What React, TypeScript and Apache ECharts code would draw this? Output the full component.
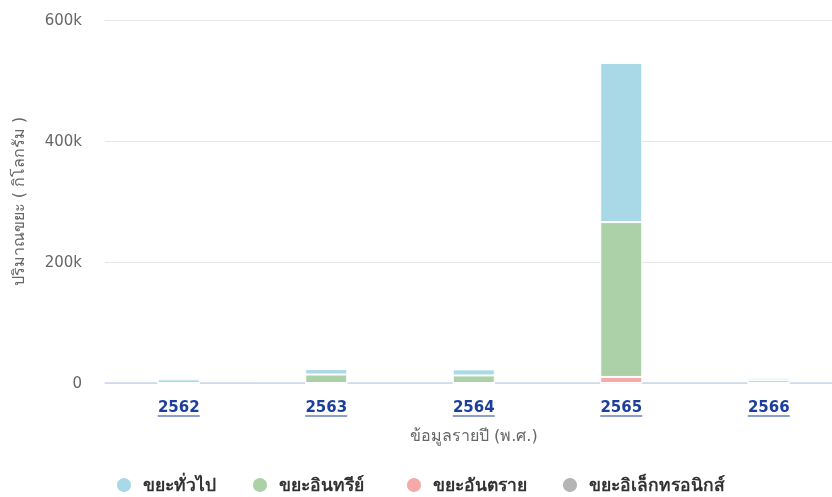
import React, { useEffect, useRef } from "react";
import * as echarts from "echarts";

const categories = ["2562", "2563", "2564", "2565", "2566"];
const generalWaste = [6000, 9000, 10000, 263000, 4000];
const organicWaste = [0, 14000, 12500, 256000, 4500];
const hazardousWaste = [0, 0, 0, 10000, 0];
const electronicWaste = [0, 0, 0, 0, 0];
const seriesNames = ["ขยะทั่วไป", "ขยะอินทรีย์", "ขยะอันตราย", "ขยะอิเล็กทรอนิกส์"];
const seriesColors = ["#a9d8e7", "#acd1a8", "#f5a9a9", "#b4b4b4"];
const yTicks = [0, 200000, 400000, 600000];
const legendLefts = [115, 251, 405, 561];

const FONT = "'DejaVu Sans', 'Noto Sans', sans-serif";

export default function App() {
  const ref = useRef<HTMLDivElement>(null);
  useEffect(() => {
    if (!ref.current) return;
    const chart = echarts.init(ref.current, undefined, { renderer: "svg" });
    const bar = (i: number, data: number[]) => ({
      name: seriesNames[i],
      type: "bar",
      stack: "total",
      data,
      barWidth: 42,
      itemStyle: { color: seriesColors[i], borderColor: "#ffffff", borderWidth: 1 },
      emphasis: { disabled: true },
    });
    chart.setOption({
      animation: false,
      textStyle: { fontFamily: FONT },
      color: seriesColors,
      grid: { left: 105, top: 20, width: 737.5, height: 363, containLabel: false, outerBoundsMode: "none" },
      xAxis: {
        type: "category",
        data: categories,
        name: "ข้อมูลรายปี (พ.ศ.)",
        nameLocation: "middle",
        nameGap: 44,
        nameTextStyle: { color: "#666666", fontSize: 16, fontFamily: FONT },
        axisLine: { lineStyle: { color: "#ccd6eb", width: 1.5 } },
        axisTick: { show: false },
        axisLabel: {
          margin: 16,
          formatter: (v: string) => `{a|${v}}\n{u|}`,
          rich: {
            a: { color: "#1c3f9b", fontSize: 15, fontWeight: "bold", fontFamily: FONT, lineHeight: 16 },
            u: { width: 42, height: 1, backgroundColor: "#1c3f9b", lineHeight: 2 },
          },
        },
      },
      yAxis: {
        type: "value",
        min: 0,
        max: 600000,
        interval: 200000,
        name: "ปริมาณขยะ ( กิโลกรัม )",
        nameLocation: "middle",
        nameGap: 79,
        nameTextStyle: { color: "#666666", fontSize: 16, fontFamily: FONT },
        axisLine: { show: false },
        axisTick: { show: false },
        splitLine: { lineStyle: { color: "#e6e6e6", width: 1 } },
        axisLabel: {
          margin: 23,
          color: "#666666",
          fontSize: 15,
          fontFamily: FONT,
          formatter: (v: number) => (yTicks.includes(v) && v !== 0 ? `${v / 1000}k` : `${v}`),
        },
      },
      legend: seriesNames.map((n, i) => ({
        data: [n],
        left: legendLefts[i],
        top: 476,
        padding: 0,
        icon: "circle",
        itemWidth: 16,
        itemHeight: 16,
        textStyle: {
          color: "#333333",
          fontSize: 17.5,
          fontWeight: "bold",
          fontFamily: FONT,
          padding: [0, 0, 0, 6],
        },
      })),
      series: [
        bar(3, electronicWaste),
        bar(2, hazardousWaste),
        bar(1, organicWaste),
        bar(0, generalWaste),
      ],
    });
    return () => chart.dispose();
  }, []);
  return (
    <div
      ref={ref}
      style={{ position: "fixed", left: 0, top: 0, width: 832, height: 497 }}
    />
  );
}
